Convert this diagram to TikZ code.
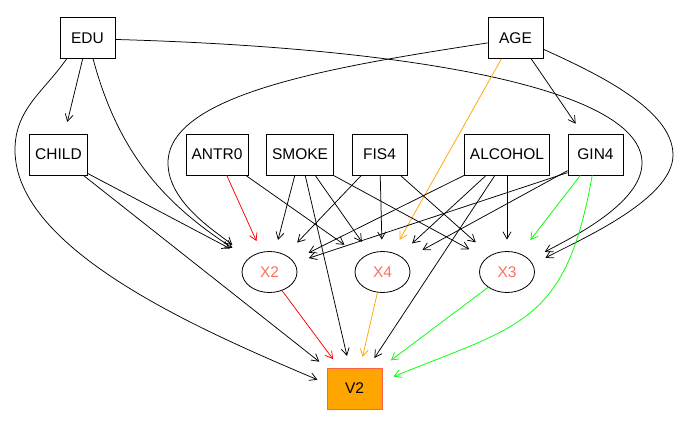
\documentclass[tikz,border=0pt]{standalone}
\usepackage{fontspec}
\setmainfont{Liberation Sans}
\usepackage{tikz}
\usetikzlibrary{arrows.meta,shapes.geometric}
\definecolor{vred}{HTML}{FF0000}
\definecolor{vorange}{HTML}{FFA500}
\definecolor{vgreen}{HTML}{00FF00}
\definecolor{latcol}{HTML}{FA7060}
\definecolor{respline}{HTML}{FF6347}
\newcommand{\varfont}{\fontsize{15.5}{18}\selectfont}

\begin{document}
\begin{tikzpicture}[x=1pt,y=1pt,
  var/.style={draw=black,line width=0.8pt,minimum width=55pt,minimum height=41pt,inner xsep=5.5pt,font=\varfont},
  lat/.style={ellipse,draw=black,line width=0.8pt,minimum width=55pt,minimum height=41pt,inner sep=0pt,text=latcol,font=\varfont},
  resp/.style={var,fill=vorange,draw=respline},
  arr/.style={-{Straight Barb[length=7pt,width=8pt]},line width=0.75pt,shorten >=12pt}]
\useasboundingbox (0,0) rectangle (689,-428);
\node[var] (edu) at (87.5,-38) {EDU};
\node[var] (age) at (515.5,-38) {AGE};
\node[var] (child) at (58.5,-154.5) {CHILD};
\node[var] (antr0) at (217,-154.5) {ANTR0};
\node[var] (smoke) at (300,-154.5) {SMOKE};
\node[var] (fis4) at (379.5,-154.5) {FIS4};
\node[var] (alcohol) at (507,-154.5) {ALCOHOL};
\node[var] (gin4) at (595.5,-154.5) {GIN4};
\node[lat] (x2) at (269.5,-272) {X2};
\node[lat] (x4) at (382.5,-272) {X4};
\node[lat] (x3) at (507,-272) {X3};
\node[resp] (v2) at (354.5,-388.5) {V2};
\draw[arr] (edu.-103) -- (child.74);
\draw[arr,shorten >=19pt] (edu) to[out=-75,in=147] (x2);
\draw[arr,shorten >=10pt] (edu.-135) .. controls (43.5,-92) and (15,-109) .. (15,-150) .. controls (15,-250) and (200,-330) .. (v2.170);
\draw[arr,shorten >=17pt] (edu.-3) .. controls (420,-48) and (642,-90) .. (642,-163) .. controls (642,-203) and (573,-237) .. (x3.28);
\draw[arr,shorten >=21pt] (age.-170) .. controls (338,-66) and (168,-93) .. (168,-163) .. controls (168,-203) and (218,-233) .. (x2.147);
\draw[arr,shorten >=14pt] (age.-22) .. controls (598,-74) and (673,-110) .. (673,-155) .. controls (673,-200) and (577,-241) .. (x3.16);
\draw[arr] (age.-53) -- (gin4.122);
\draw[arr,vorange,shorten >=14.5pt] (age.-124) -- (x4.63);
\draw[arr,shorten >=21pt] (child.-33) -- (x2.147);
\draw[arr,shorten >=9.5pt] (child.-40) -- (v2.143);
\draw[arr,vred] (antr0.-65) -- (x2.112);
\draw[arr,shorten >=22pt] (antr0.-36) -- (x4.144);
\draw[arr] (smoke.-104) -- (x2.75);
\draw[arr] (smoke.-76) -- (v2.103);
\draw[arr,shorten >=14pt] (smoke.-54) -- (x4.124);
\draw[arr,shorten >=19pt] (smoke.-32) -- (x3.147);
\draw[arr,shorten >=17pt] (fis4.-131) -- (x2.47);
\draw[arr,shorten >=11.5pt] (fis4.-88) -- (x4.91);
\draw[arr,shorten >=19.5pt] (fis4.-45) -- (x3.135);
\draw[arr,shorten >=17.5pt] (alcohol.-154) -- (x2.26);
\draw[arr,shorten >=17.5pt] (alcohol.-135) -- (x4.45);
\draw[arr,shorten >=11.5pt] (alcohol.-120) -- (v2.57);
\draw[arr,shorten >=11.5pt] (alcohol) -- (x3);
\draw[arr,shorten >=15pt] (gin4.-147) -- (x2.20);
\draw[arr,shorten >=20pt] (gin4.-150) -- (x4.29);
\draw[arr,vgreen,shorten >=17pt] (gin4.-126) -- (x3.55);
\draw[arr,vgreen] (gin4.-99) .. controls +(-100:150) and +(22:150) .. (v2.15);
\draw[arr,vred,shorten >=10.5pt] (x2.-56) -- (v2.126);
\draw[arr,vorange,shorten >=11pt] (x4.-104) -- (v2.75);
\draw[arr,vgreen] (x3.-141) -- (v2.38);
\end{tikzpicture}
\end{document}
